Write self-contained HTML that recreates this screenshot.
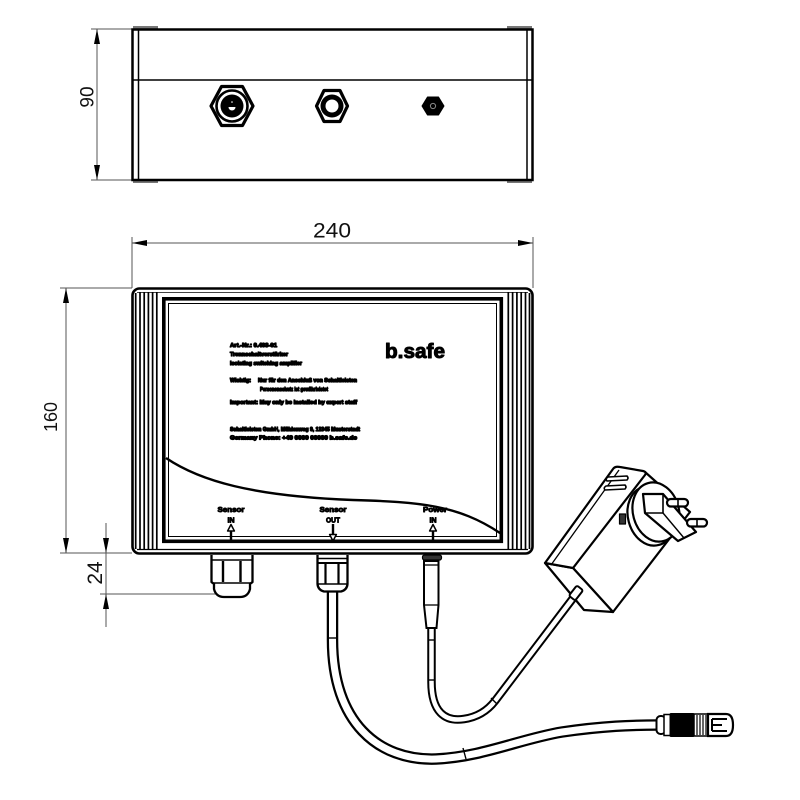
<!DOCTYPE html>
<html><head><meta charset="utf-8"><style>html,body{margin:0;padding:0;background:#fff}svg{display:block}</style></head><body>
<svg width="800" height="800" viewBox="0 0 800 800" xmlns="http://www.w3.org/2000/svg" font-family="'Liberation Sans', Arial, sans-serif">
<rect width="800" height="800" fill="#fff"/>

<!-- ===== dimension lines ===== -->
<g stroke="#555" stroke-width="1" fill="none">
 <line x1="91" y1="29" x2="132" y2="29"/>
 <line x1="91" y1="180" x2="132" y2="180"/>
 <line x1="97" y1="29" x2="97" y2="180"/>
 <line x1="132" y1="237" x2="132" y2="288"/>
 <line x1="533" y1="237" x2="533" y2="288"/>
 <line x1="132" y1="243" x2="533" y2="243"/>
 <line x1="60" y1="288" x2="132" y2="288"/>
 <line x1="60" y1="553" x2="132" y2="553"/>
 <line x1="66" y1="288" x2="66" y2="553"/>
 <line x1="100" y1="594" x2="222" y2="594"/>
 <line x1="106" y1="523" x2="106" y2="627"/>
</g>
<g fill="#000">
 <polygon points="97,29 94,44 100,44"/>
 <polygon points="97,180 94,165 100,165"/>
 <polygon points="132,243 147,240 147,246"/>
 <polygon points="533,243 518,240 518,246"/>
 <polygon points="66,288 63,303 69,303"/>
 <polygon points="66,553 63,538 69,538"/>
 <polygon points="106,553 103,538 109,538"/>
 <polygon points="106,594 103,609 109,609"/>
</g>
<g fill="#111">
 <text x="332" y="237.5" font-size="21" text-anchor="middle" textLength="38" lengthAdjust="spacingAndGlyphs">240</text>
 <text transform="translate(93.5,97) rotate(-90)" font-size="19" text-anchor="middle">90</text>
 <text transform="translate(57,417) rotate(-90)" font-size="18" text-anchor="middle">160</text>
 <text transform="translate(102,573) rotate(-90)" font-size="21" text-anchor="middle">24</text>
</g>

<!-- ===== top view ===== -->
<g>
 <rect x="133" y="26" width="25" height="3" fill="#777"/>
 <rect x="507" y="26" width="25" height="3" fill="#777"/>
 <rect x="133" y="180" width="25" height="3" fill="#777"/>
 <rect x="507" y="180" width="25" height="3" fill="#777"/>
 <rect x="132.5" y="29.5" width="400" height="150.5" fill="#fff" stroke="#000" stroke-width="2.5"/>
 <line x1="138.5" y1="29" x2="138.5" y2="180" stroke="#000" stroke-width="1.5"/>
 <line x1="527" y1="29" x2="527" y2="180" stroke="#000" stroke-width="1.5"/>
 <line x1="132" y1="80" x2="533" y2="80" stroke="#000" stroke-width="1.6"/>
 <polygon points="211,106 221.5,86.5 242.5,86.5 253,106 242.5,125.5 221.5,125.5" fill="#fff" stroke="#000" stroke-width="3.2" stroke-linejoin="round"/>
 <circle cx="232" cy="106" r="15.5" fill="#fff" stroke="#000" stroke-width="2.6"/>
 <circle cx="232" cy="106" r="11.5" fill="#000"/>
 <path d="M228.5,107 a3.5,3.5 0 0 0 7,0 z" fill="#fff"/>
 <circle cx="232" cy="102" r="0.8" fill="#fff"/>
 <polygon points="316.5,106 324,90.5 340,90.5 347.5,106 340,121.5 324,121.5" fill="#fff" stroke="#000" stroke-width="3.2" stroke-linejoin="round"/>
 <circle cx="332" cy="106" r="11.5" fill="#000"/>
 <circle cx="332" cy="106" r="6.5" fill="#fff"/>
 <polygon points="422,106 427.5,97 438.5,97 444,106 438.5,115 427.5,115" fill="#000" stroke="#000" stroke-width="1" stroke-linejoin="round"/>
 <circle cx="433" cy="106" r="2.6" fill="none" stroke="#888" stroke-width="1"/>
</g>

<!-- ===== cables ===== -->
<g fill="none" stroke-linecap="butt">
 <path d="M332.5,588 L332.5,640 C332.5,722 378,761 436,759 C482,757 520,739 562,732 C603,726 632,725 659,725" stroke="#000" stroke-width="11.5"/>
 <path d="M332.5,588 L332.5,640 C332.5,722 378,761 436,759 C482,757 520,739 562,732 C603,726 632,725 659,725" stroke="#fff" stroke-width="7"/>
 <path d="M431.5,626 L431.5,682 C431.5,712 445,722 464,719 C478,717 488,710 495,701 L577,593" stroke="#000" stroke-width="8.5"/>
 <path d="M431.5,626 L431.5,682 C431.5,712 445,722 464,719 C478,717 488,710 495,701 L577,593" stroke="#fff" stroke-width="4.5"/>
 <g stroke="#000" stroke-width="1.4">
  <line x1="327" y1="638" x2="338" y2="638"/>
  <line x1="463" y1="748" x2="466" y2="759"/>
  <line x1="427.5" y1="640" x2="435.5" y2="640"/>
  <line x1="427.5" y1="680" x2="435.5" y2="680"/>
  <line x1="491" y1="698" x2="497" y2="704"/>
 </g>
</g>

<!-- end connector -->
<g stroke="#000">
 <rect x="656.5" y="716" width="9" height="18" rx="4" fill="#fff" stroke-width="2"/>
 <rect x="664" y="714.5" width="7" height="21" fill="#fff" stroke-width="1.5"/>
 <rect x="670" y="713.5" width="24" height="23" rx="1" fill="#000" stroke-width="1"/>
 <rect x="694" y="714" width="14" height="22" fill="#fff" stroke-width="1.5"/>
 <g stroke-width="1.2"><line x1="697" y1="715" x2="697" y2="735"/><line x1="700" y1="715" x2="700" y2="735"/><line x1="703" y1="715" x2="703" y2="735"/><line x1="706" y1="715" x2="706" y2="735"/></g>
 <path d="M708,714 L726,714 Q733,714 733,725 Q733,736 726,736 L708,736 Z" fill="#fff" stroke-width="2.2"/>
 <path d="M712,719 L727,719 M712,731 L727,731 M712,725 L722,725 M712,719 L712,731" fill="none" stroke-width="2"/>
</g>

<!-- ===== front view ===== -->
<g>
 <rect x="132.5" y="288.5" width="400" height="265" rx="7" fill="#fff" stroke="#000" stroke-width="2.6"/>
 <line x1="137" y1="292.5" x2="528" y2="292.5" stroke="#444" stroke-width="1"/>
 <line x1="137" y1="549.5" x2="528" y2="549.5" stroke="#000" stroke-width="1.3"/>
 <g stroke="#000" stroke-width="1.7">
  <line x1="135.7" y1="293" x2="135.7" y2="549"/>
  <line x1="140" y1="292" x2="140" y2="550"/>
  <line x1="144.2" y1="292" x2="144.2" y2="550"/>
  <line x1="148.4" y1="292" x2="148.4" y2="550"/>
  <line x1="152.6" y1="292" x2="152.6" y2="550"/>
  <line x1="156.8" y1="292" x2="156.8" y2="550"/>
  <line x1="508.3" y1="292" x2="508.3" y2="550"/>
  <line x1="512.6" y1="292" x2="512.6" y2="550"/>
  <line x1="516.9" y1="292" x2="516.9" y2="550"/>
  <line x1="521.2" y1="292" x2="521.2" y2="550"/>
  <line x1="525.5" y1="292" x2="525.5" y2="550"/>
  <line x1="529.5" y1="293" x2="529.5" y2="549"/>
 </g>
 <rect x="163.8" y="298.8" width="337.5" height="242.5" fill="#fff" stroke="#000" stroke-width="3.6"/>
 <rect x="168.5" y="303.5" width="328" height="233" fill="none" stroke="#000" stroke-width="1"/>
 <path d="M166,458 C200,481 252,496 353,500 C420,502 458,505 500,533" fill="none" stroke="#000" stroke-width="2.4"/>
 <!-- label text -->
 <g fill="#000" stroke="#000" stroke-width="1.3" stroke-linejoin="round" font-weight="bold" font-size="5.8">
  <text x="230" y="347" textLength="47" lengthAdjust="spacingAndGlyphs">Art.-Nr.: 0.403-01</text>
  <text x="230" y="356" textLength="58" lengthAdjust="spacingAndGlyphs">Trennschaltverstärker</text>
  <text x="230" y="365" textLength="72" lengthAdjust="spacingAndGlyphs">Isolating switching amplifier</text>
  <text x="230" y="382" textLength="21" lengthAdjust="spacingAndGlyphs">Wichtig:</text>
  <text x="258" y="382" textLength="99" lengthAdjust="spacingAndGlyphs">Nur für den Anschluß von Schaltleisten</text>
  <text x="260" y="391" textLength="68" lengthAdjust="spacingAndGlyphs">Personenschutz ist gewährleistet</text>
  <text x="230" y="404" textLength="127" lengthAdjust="spacingAndGlyphs">Important: May only be installed by expert staff</text>
  <text x="230" y="431" textLength="130" lengthAdjust="spacingAndGlyphs">Schaltleisten GmbH, Mühlenweg 9, 12345 Musterstadt</text>
  <text x="230" y="439.5" textLength="127" lengthAdjust="spacingAndGlyphs">Germany Phone: +49 0000 00000 b.safe.de</text>
 </g>
 <text x="385" y="358" font-size="20" font-weight="bold" fill="#000" stroke="#000" stroke-width="1" stroke-linejoin="round" textLength="60" lengthAdjust="spacingAndGlyphs">b.safe</text>
 <!-- port labels -->
 <g fill="#000" stroke="#000" stroke-width="0.9" stroke-linejoin="round" font-weight="bold" font-size="7.2" text-anchor="middle">
  <text x="231" y="512" textLength="27" lengthAdjust="spacingAndGlyphs">Sensor</text>
  <text x="231" y="522.5" textLength="7" lengthAdjust="spacingAndGlyphs">IN</text>
  <text x="333" y="512" textLength="27" lengthAdjust="spacingAndGlyphs">Sensor</text>
  <text x="333" y="522.5" textLength="14" lengthAdjust="spacingAndGlyphs">OUT</text>
  <text x="435" y="512" textLength="24" lengthAdjust="spacingAndGlyphs">Power</text>
  <text x="433" y="522.5" textLength="7" lengthAdjust="spacingAndGlyphs">IN</text>
 </g>
 <g stroke="#000" stroke-width="2.4" fill="none">
  <line x1="231" y1="530" x2="231" y2="541"/>
  <line x1="333" y1="524" x2="333" y2="535"/>
  <line x1="433" y1="530" x2="433" y2="541"/>
 </g>
 <g stroke="#000" stroke-width="1.5" fill="#fff" stroke-linejoin="round">
  <polygon points="231,524.5 227.6,531 234.4,531"/>
  <polygon points="333,541 329.6,534.5 336.4,534.5"/>
  <polygon points="433,524.5 429.6,531 436.4,531"/>
 </g>
</g>

<!-- ===== glands below box ===== -->
<g stroke="#000" fill="#fff">
 <path d="M211.5,555 L211.5,582 L214,584 L214,589 Q216,597 224,597 L240,597 Q248,597 250,589 L250,584 L252.5,582 L252.5,555" stroke-width="2.3"/>
 <line x1="211.5" y1="560" x2="252.5" y2="560" stroke-width="1.6"/>
 <line x1="211.5" y1="583" x2="252.5" y2="583" stroke-width="1.6"/>
 <line x1="223" y1="561" x2="223" y2="582" stroke-width="2.4"/>
 <line x1="240.5" y1="561" x2="240.5" y2="582" stroke-width="2.4"/>
 <path d="M317.5,555 L317.5,584 Q318,590 324,591.5 L341,591.5 Q347,590 347.5,584 L347.5,555" stroke-width="2.3"/>
 <line x1="317.5" y1="558.5" x2="347.5" y2="558.5" stroke-width="1.6"/>
 <line x1="317.5" y1="563" x2="347.5" y2="563" stroke-width="2"/>
 <line x1="317.5" y1="584" x2="347.5" y2="584" stroke-width="1.5"/>
 <line x1="325.5" y1="563" x2="325.5" y2="584" stroke-width="2.2"/>
 <line x1="338.5" y1="563" x2="338.5" y2="584" stroke-width="2.2"/>
 <rect x="422.5" y="555" width="19" height="5" rx="2" fill="#333" stroke-width="1.2"/>
 <path d="M424,561 L438.5,561 L438.5,605 L436.5,628 L426.5,628 L424,605 Z" stroke-width="2"/>
 <line x1="424" y1="565" x2="438.5" y2="565" stroke-width="1.3"/>
 <line x1="424" y1="605" x2="438.5" y2="605" stroke-width="1.3"/>
</g>

<!-- ===== power adapter ===== -->
<g stroke="#000" stroke-width="2.2" stroke-linejoin="round" fill="#fff">
 <polygon points="573,568 645,472 690,512 613,612"/>
 <polygon points="545,563 573,568 613,612 584,610"/>
 <path d="M545,563 L613,469 Q615,466 620,467 L643,471 Q647,472 645,475 L573,568 Z"/>
 <line x1="551" y1="565" x2="619" y2="470" stroke-width="1.3"/>
 <path d="M608,477 L627,476 Q629,478 627,480 L607,481 Q605,479 608,477 Z" stroke-width="1.6"/>
 <path d="M606,486 L625,485 Q627,487 625,489 L605,490 Q603,488 606,486 Z" stroke-width="1.6"/>
 <rect x="-6.5" y="-4" width="13" height="8" rx="2" transform="translate(576,593) rotate(-52)" stroke-width="2"/>
 <ellipse cx="651" cy="516" rx="23" ry="30" transform="rotate(-15 651 516)"/>
 <ellipse cx="656" cy="512" rx="23" ry="30" transform="rotate(-15 656 512)"/>
 <rect x="619.5" y="514" width="6" height="10" fill="#333" stroke-width="1.2"/>
 <polygon points="643,494 663,494 696,532 678,541 645,513"/>
 <polyline points="663,494 663,513 645,513" fill="none" stroke-width="1.6"/>
 <line x1="663" y1="513" x2="684" y2="538" stroke-width="1.4"/>
 <rect x="667" y="499" width="21" height="7.5" rx="3.7"/>
 <line x1="678" y1="499" x2="678" y2="506.5" stroke-width="1.6"/>
 <rect x="687" y="519" width="20" height="7.5" rx="3.7"/>
 <line x1="697" y1="519" x2="697" y2="526.5" stroke-width="1.6"/>
</g>

</svg>
</body></html>
